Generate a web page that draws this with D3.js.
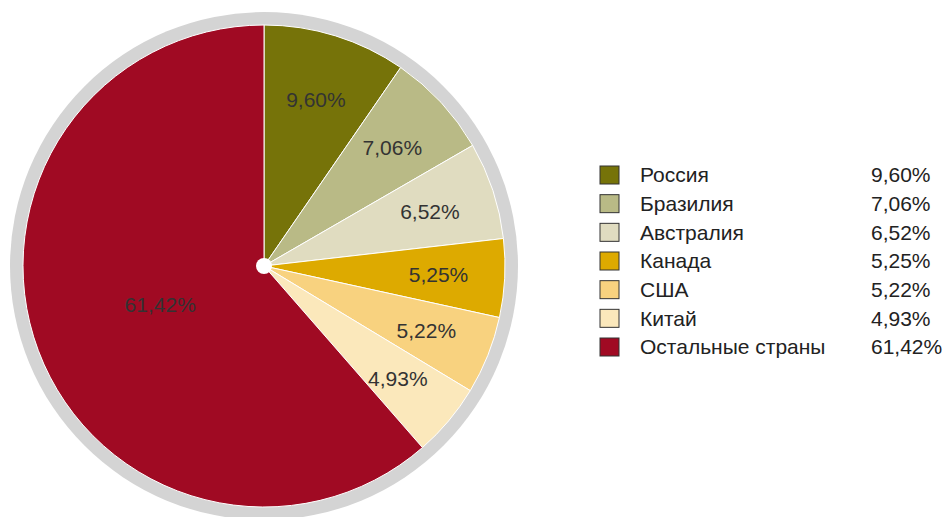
<!DOCTYPE html>
<html>
<head>
<meta charset="utf-8">
<script src="https://cdn.jsdelivr.net/npm/d3@7"></script>
<style>
  body { margin: 0; background: #fff; }
  text { font-family: "Liberation Sans", Arial, sans-serif; }
</style>
</head>
<body>
<div id="chart"></div>
<script>
var countries = ['Россия', 'Бразилия', 'Австралия', 'Канада', 'США', 'Китай', 'Остальные страны'];
var shares = [9.60, 7.06, 6.52, 5.25, 5.22, 4.93, 61.42];
var colors = ['#767309', '#b9ba86', '#e0dcc0', '#ddaa00', '#f8d27f', '#fbe8bb', '#a00a23'];

var w = 945, h = 517;
var cx = 264, cy = 266;
var r = 241;

var svg = d3.select('#chart').append('svg')
  .attr('width', w)
  .attr('height', h);

var fmt = function(v) { return v.toFixed(2).replace('.', ',') + '%'; };

// grey ring behind the pie
svg.append('circle')
  .attr('cx', cx)
  .attr('cy', cy)
  .attr('r', r + 13)
  .attr('fill', '#d4d4d4');

var pie = d3.pie().sort(null).value(function(d) { return d; });
var arc = d3.arc().innerRadius(0).outerRadius(r);

var g = svg.append('g')
  .attr('transform', 'translate(' + cx + ',' + cy + ')');

var arcs = pie(shares);

g.selectAll('path')
  .data(arcs)
  .enter().append('path')
  .attr('d', arc)
  .attr('fill', function(d, i) { return colors[i]; })
  .attr('stroke', '#fff')
  .attr('stroke-width', 1);

g.selectAll('text.pct')
  .data(arcs)
  .enter().append('text')
  .attr('class', 'pct')
  .attr('transform', function(d) {
    var lr = (d.endAngle - d.startAngle) > Math.PI ? r * 0.46 : r * 0.725;
    var a = (d.startAngle + d.endAngle) / 2;
    return 'translate(' + (Math.sin(a) * lr) + ',' + (-Math.cos(a) * lr) + ')';
  })
  .attr('text-anchor', 'middle')
  .attr('dy', '0.35em')
  .attr('font-size', 21)
  .attr('fill', '#333')
  .text(function(d) { return fmt(d.data); });

g.append('circle')
  .attr('r', 8)
  .attr('fill', '#fff');

// legend
var y = d3.scalePoint().domain(countries).range([175, 347]);

var legend = svg.append('g');
var row = legend.selectAll('g')
  .data(countries)
  .enter().append('g')
  .attr('transform', function(d) { return 'translate(0,' + y(d) + ')'; });

row.append('rect')
  .attr('x', 600)
  .attr('y', -9)
  .attr('width', 19)
  .attr('height', 18)
  .attr('fill', function(d, i) { return colors[i]; })
  .attr('stroke', '#333')
  .attr('stroke-width', 1);

row.append('text')
  .attr('x', 640)
  .attr('dy', '0.35em')
  .attr('font-size', 21)
  .attr('fill', '#222')
  .text(function(d) { return d; });

row.append('text')
  .attr('x', 871)
  .attr('dy', '0.35em')
  .attr('font-size', 21)
  .attr('fill', '#222')
  .text(function(d, i) { return fmt(shares[i]); });
</script>
</body>
</html>
